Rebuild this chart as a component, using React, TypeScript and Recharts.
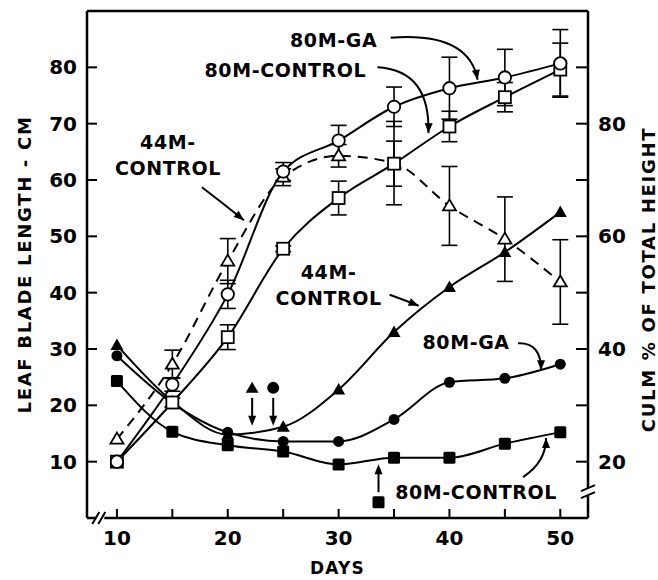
import { LineChart, Line, XAxis, YAxis, ErrorBar, ReferenceDot, ReferenceLine } from 'recharts';

// days after planting
const days = [10, 15, 20, 25, 30, 35, 40, 45, 50];

// culm % of total height (open symbols, right axis)
const culmGa80 = [20, 33.7, 49.7, 71.5, 77, 83, 86.3, 88.2, 90.7];
const culmGa80Err = [0, 1.2, 2.5, 1.6, 2.7, 3.5, 5.5, 5, 6];
const culmCtl80 = [20, 30.5, 42.1, 57.8, 66.8, 72.9, 79.5, 84.7, 89.6];
const culmCtl80Err = [0, 0.8, 2.2, 0.5, 3, 4, 2.7, 2.6, 4.7];
const culmCtl44 = [24, 37.3, 55.6, 70.5, 74.3, 73, 65.4, 59.5, 51.9];
const culmCtl44Err = [0, 2.5, 4, 1.5, 2, 7.4, 7, 7.5, 7.5];

// leaf blade length, cm (filled symbols, left axis)
const leafGa80 = [28.8, 20.4, 15.2, 13.6, 13.6, 17.5, 24.1, 24.8, 27.3];
const leafCtl80 = [24.3, 15.3, 12.9, 11.8, 9.5, 10.7, 10.7, 13.2, 15.2];
const leafCtl44 = [30.7, 20.7, 14.8, 16.2, 22.8, 33, 41, 47.2, 54.3];

const dayTicks = [10, 15, 20, 25, 30, 35, 40, 45, 50];
const dayLabels = [10, 20, 30, 40, 50];
const leafTicks = [10, 20, 30, 40, 50, 60, 70, 80];
const culmTicks = [20, 30, 40, 50, 60, 70, 80, 90];
const culmLabels = [20, 40, 60, 80];

const data = days.map((day, i) => ({
  day,
  culmGa80: culmGa80[i],
  culmGa80Err: culmGa80Err[i],
  culmCtl80: culmCtl80[i],
  culmCtl80Err: culmCtl80Err[i],
  culmCtl44: culmCtl44[i],
  culmCtl44Err: culmCtl44Err[i],
  leafGa80: leafGa80[i],
  leafCtl80: leafCtl80[i],
  leafCtl44: leafCtl44[i],
}));

// text callouts: anchor in data units, arrow in px relative to anchor
const notes = [
  { day: 29.55, value: 84.9, lines: ['80M-GA'], arrow: [57, -2, 135, -8, 144, 40] },
  { day: 25.2, value: 79.5, lines: ['80M-CONTROL'], arrow: [92, -3, 145, 0, 143, 63] },
  { day: 14.6, value: 64.4, lines: ['44M-', 'CONTROL'], arrow: [34, 32, 55, 48, 76, 65] },
  { day: 29.1, value: 41.4, lines: ['44M-', 'CONTROL'], arrow: [61, 10, 75, 15, 90, 21] },
  { day: 41.5, value: 31.2, lines: ['80M-GA'], arrow: [52, 1, 75, 0, 75, 28] },
  { day: 42.4, value: 4.6, lines: ['80M-CONTROL'], arrow: [47, -15, 70, -30, 70, -54] },
];

// treatment markers with arrows
const markers = [
  { day: 22.2, value: 23.1, kind: 'tri', dir: 1 },
  { day: 24.1, value: 23.1, kind: 'circ', dir: 1 },
  { day: 33.6, value: 2.8, kind: 'sq', dir: -1 },
];

const font = '"DejaVu Sans", sans-serif';
const tickStyle = { fontFamily: font, fontWeight: 700, fontSize: 20, fill: '#000' };
const noteStyle = { fontFamily: font, fontWeight: 700, fontSize: 19, fill: '#000', letterSpacing: 0.6 };

function arrowHead(qx: number, qy: number, x: number, y: number) {
  const a = Math.atan2(y - qy, x - qx);
  const l = 10;
  const w = 4;
  const bx = x - l * Math.cos(a);
  const by = y - l * Math.sin(a);
  const px = -Math.sin(a) * w;
  const py = Math.cos(a) * w;
  return `M${x},${y} L${bx + px},${by + py} L${bx - px},${by - py} Z`;
}

function Note(p: any) {
  const { cx, cy, note } = p;
  const [x1, y1, qx, qy, x2, y2] = note.arrow;
  const n = note.lines.length;
  return (
    <g>
      {note.lines.map((t: string, i: number) => (
        <text key={i} x={cx} y={cy + (i - (n - 1) / 2) * 26 + 7} textAnchor="middle" style={noteStyle}>
          {t}
        </text>
      ))}
      <path d={`M${cx + x1},${cy + y1} Q${cx + qx},${cy + qy} ${cx + x2},${cy + y2}`} fill="none" stroke="#000" strokeWidth={2} />
      <path d={arrowHead(cx + qx, cy + qy, cx + x2, cy + y2)} fill="#000" />
    </g>
  );
}

function Marker(p: any) {
  const { cx, cy, m } = p;
  let sym;
  if (m.kind === 'tri') sym = <path d={`M${cx},${cy - 6} L${cx + 6.5},${cy + 5} L${cx - 6.5},${cy + 5} Z`} fill="#000" />;
  else if (m.kind === 'circ') sym = <circle cx={cx} cy={cy} r={6} fill="#000" />;
  else sym = <rect x={cx - 6} y={cy - 6} width={12} height={12} rx={1.5} fill="#000" />;
  const y1 = cy + m.dir * 10;
  const y2 = cy + m.dir * 38;
  return (
    <g>
      {sym}
      <line x1={cx} x2={cx} y1={y1} y2={y2 - m.dir * 6} stroke="#000" strokeWidth={2} />
      <path d={arrowHead(cx, y1, cx, y2)} fill="#000" />
    </g>
  );
}

function BreakMark(p: any) {
  const { cx, cy, vertical } = p;
  if (vertical) {
    return (
      <g>
        <rect x={cx - 4} y={cy - 4} width={8} height={8} fill="#fff" />
        <path d={`M${cx - 7},${cy - 1} L${cx + 7},${cy - 7} M${cx - 7},${cy + 6} L${cx + 7},${cy}`} stroke="#000" strokeWidth={2} />
      </g>
    );
  }
  return (
    <g>
      <rect x={cx - 4} y={cy - 4} width={8} height={8} fill="#fff" />
      <path d={`M${cx - 8},${cy + 6} L${cx - 1},${cy - 6} M${cx - 2},${cy + 6} L${cx + 5},${cy - 6}`} stroke="#000" strokeWidth={2} />
    </g>
  );
}

function DayTick(p: any) {
  const { x, y, payload } = p;
  const v = payload.value;
  return (
    <g>
      <line x1={x} x2={x} y1={y} y2={y - 9} stroke="#000" strokeWidth={2} />
      {dayLabels.includes(v) && (
        <text x={x} y={y + 27} textAnchor="middle" style={tickStyle}>
          {v}
        </text>
      )}
    </g>
  );
}

function LeafTick(p: any) {
  const { x, y, payload } = p;
  return (
    <g>
      <line x1={x} x2={x + 10} y1={y} y2={y} stroke="#000" strokeWidth={2} />
      <text x={x - 10} y={y + 7} textAnchor="end" style={tickStyle}>
        {payload.value}
      </text>
    </g>
  );
}

function CulmTick(p: any) {
  const { x, y, payload } = p;
  const v = payload.value;
  return (
    <g>
      <line x1={x} x2={x - 12} y1={y} y2={y} stroke="#000" strokeWidth={2} />
      {culmLabels.includes(v) && (
        <text x={x + 10} y={y + 7} textAnchor="start" style={tickStyle}>
          {v}
        </text>
      )}
    </g>
  );
}

const titleStyle = { fontFamily: font, fontWeight: 700, fontSize: 18, fill: '#000', letterSpacing: 1.7 };

function VTitle(cx: number, cy: number, text: string) {
  return (
    <text x={cx} y={cy} transform={`rotate(-90, ${cx}, ${cy})`} textAnchor="middle" dominantBaseline="central" style={titleStyle}>
      {text}
    </text>
  );
}

const openCircle = (p: any) => <circle key={p.index} cx={p.cx} cy={p.cy} r={6.2} fill="#fff" stroke="#000" strokeWidth={1.8} />;
const openSquare = (p: any) => <rect key={p.index} x={p.cx - 6} y={p.cy - 6} width={12} height={12} fill="#fff" stroke="#000" strokeWidth={1.8} />;
const openTriangle = (p: any) => (
  <path key={p.index} d={`M${p.cx},${p.cy - 6.5} L${p.cx + 6.5},${p.cy + 4.5} L${p.cx - 6.5},${p.cy + 4.5} Z`} fill="#fff" stroke="#000" strokeWidth={1.8} />
);
const filledCircle = (p: any) => <circle key={p.index} cx={p.cx} cy={p.cy} r={5.5} fill="#000" />;
const filledSquare = (p: any) => <rect key={p.index} x={p.cx - 6} y={p.cy - 6} width={12} height={12} rx={1.5} fill="#000" />;
const filledTriangle = (p: any) => (
  <path key={p.index} d={`M${p.cx},${p.cy - 6.5} L${p.cx + 6.5},${p.cy + 5} L${p.cx - 6.5},${p.cy + 5} Z`} fill="#000" />
);

const axisLine = { stroke: '#000', strokeWidth: 2.5 };

export default function App() {
  return (
    <div style={{ position: 'absolute', left: 0, top: 0, background: '#fff' }}>
      <LineChart width={658} height={580} data={data} margin={{ top: 11, right: 0, bottom: 0, left: 0 }}>
        <XAxis
          dataKey="day"
          type="number"
          domain={[7.3, 52.5]}
          allowDataOverflow
          ticks={dayTicks}
          interval={0}
          height={62}
          axisLine={axisLine}
          tickLine={false}
          tickSize={0}
          tickMargin={0}
          tick={(p: any) => <DayTick {...p} />}
          label={{
            content: (lp: any) => {
              const vb = lp.viewBox;
              return (
                <text x={vb.x + vb.width / 2} y={vb.y + 56} textAnchor="middle" style={{ ...titleStyle, fontSize: 17, letterSpacing: 1.2 }}>
                  DAYS
                </text>
              );
            },
          }}
        />
        <YAxis
          yAxisId="leaf"
          orientation="left"
          type="number"
          domain={[0, 90]}
          allowDataOverflow
          ticks={leafTicks}
          interval={0}
          width={87}
          axisLine={axisLine}
          tickLine={false}
          tickSize={0}
          tickMargin={0}
          tick={(p: any) => <LeafTick {...p} />}
          label={{
            content: (lp: any) => {
              const vb = lp.viewBox;
              return VTitle(vb.x + 24, vb.y + vb.height / 2, 'LEAF BLADE LENGTH - CM');
            },
          }}
        />
        <YAxis
          yAxisId="culm"
          orientation="right"
          type="number"
          domain={[10, 100]}
          allowDataOverflow
          ticks={culmTicks}
          interval={0}
          width={70}
          axisLine={axisLine}
          tickLine={false}
          tickSize={0}
          tickMargin={0}
          tick={(p: any) => <CulmTick {...p} />}
          label={{
            content: (lp: any) => {
              const vb = lp.viewBox;
              return VTitle(vb.x + 60, vb.y + vb.height / 2 + 15, 'CULM % OF TOTAL HEIGHT');
            },
          }}
        />
        <ReferenceLine yAxisId="leaf" y={90} stroke="#000" strokeWidth={2.5} ifOverflow="visible" />

        <Line yAxisId="leaf" dataKey="leafCtl44" type="monotone" stroke="#000" strokeWidth={2} dot={filledTriangle} isAnimationActive={false} />
        <Line yAxisId="leaf" dataKey="leafGa80" type="monotone" stroke="#000" strokeWidth={2} dot={filledCircle} isAnimationActive={false} />
        <Line yAxisId="leaf" dataKey="leafCtl80" type="monotone" stroke="#000" strokeWidth={2} dot={filledSquare} isAnimationActive={false} />

        <Line yAxisId="culm" dataKey="culmCtl44" type="monotone" stroke="#000" strokeWidth={2} strokeDasharray="10 7" dot={openTriangle} isAnimationActive={false}>
          <ErrorBar dataKey="culmCtl44Err" width={8} stroke="#000" strokeWidth={1.6} direction="y" />
        </Line>
        <Line yAxisId="culm" dataKey="culmCtl80" type="monotone" stroke="#000" strokeWidth={2} dot={openSquare} isAnimationActive={false}>
          <ErrorBar dataKey="culmCtl80Err" width={8} stroke="#000" strokeWidth={1.6} direction="y" />
        </Line>
        <Line yAxisId="culm" dataKey="culmGa80" type="monotone" stroke="#000" strokeWidth={2} dot={openCircle} isAnimationActive={false}>
          <ErrorBar dataKey="culmGa80Err" width={8} stroke="#000" strokeWidth={1.6} direction="y" />
        </Line>

        {notes.map((n, i) => (
          <ReferenceDot key={`n${i}`} yAxisId="leaf" x={n.day} y={n.value} r={0} ifOverflow="visible" shape={(p: any) => <Note {...p} note={n} />} />
        ))}
        {markers.map((m, i) => (
          <ReferenceDot key={`m${i}`} yAxisId="leaf" x={m.day} y={m.value} r={0} ifOverflow="visible" shape={(p: any) => <Marker {...p} m={m} />} />
        ))}
        <ReferenceDot yAxisId="leaf" x={8.5} y={0} r={0} ifOverflow="visible" shape={(p: any) => <BreakMark {...p} />} />
        <ReferenceDot yAxisId="leaf" x={52.5} y={4.6} r={0} ifOverflow="visible" shape={(p: any) => <BreakMark {...p} vertical />} />
      </LineChart>
    </div>
  );
}
